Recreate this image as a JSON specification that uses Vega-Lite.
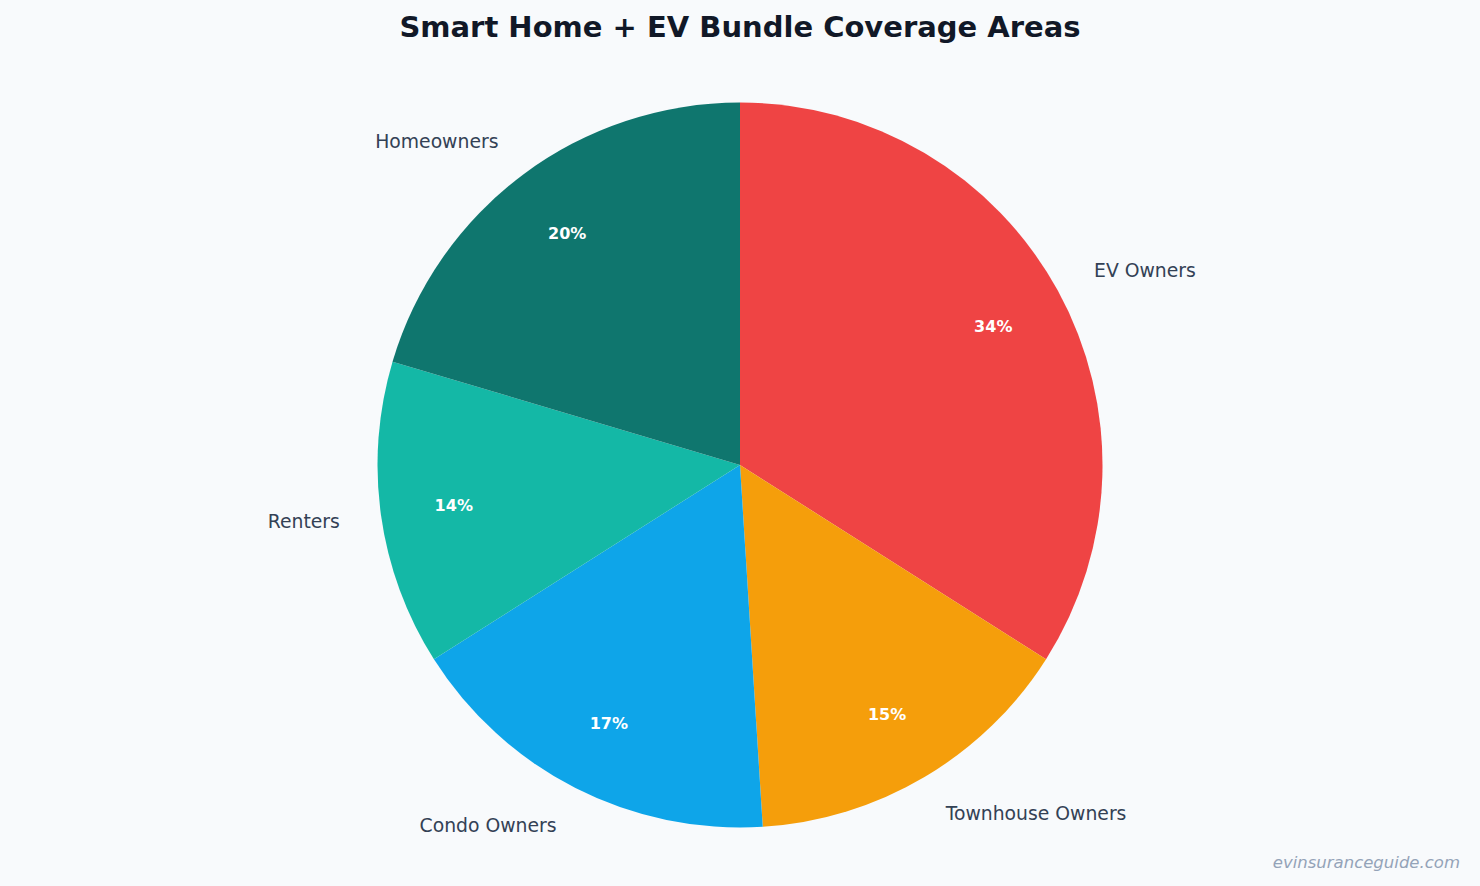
{
  "$schema": "https://vega.github.io/schema/vega-lite/v6.json",
  "autosize": {"type": "none"},
  "width": 1480,
  "height": 810,
  "padding": {"top": 60, "left": 0, "right": 0, "bottom": 16},
  "background": "#f8fafc",
  "config": {"view": {"stroke": null}, "font": "DejaVu Sans"},
  "title": {
    "text": "Smart Home + EV Bundle Coverage Areas",
    "font": "DejaVu Sans",
    "fontSize": 29,
    "fontWeight": "bold",
    "color": "#111827",
    "anchor": "middle",
    "offset": 17
  },
  "data": {
    "values": [
      {"category": "EV Owners", "share": 0.340, "rank": 1},
      {"category": "Townhouse Owners", "share": 0.150, "rank": 2},
      {"category": "Condo Owners", "share": 0.170, "rank": 3},
      {"category": "Renters", "share": 0.136, "rank": 4},
      {"category": "Homeowners", "share": 0.204, "rank": 5}
    ]
  },
  "encoding": {
    "theta": {"field": "share", "type": "quantitative", "stack": true},
    "order": {"field": "rank", "type": "quantitative"}
  },
  "layer": [
    {
      "mark": {"type": "arc", "outerRadius": 362.5},
      "encoding": {
        "color": {
          "field": "category",
          "type": "nominal",
          "legend": null,
          "scale": {
            "domain": ["EV Owners", "Townhouse Owners", "Condo Owners", "Renters", "Homeowners"],
            "range": ["#ef4444", "#f59e0b", "#0ea5e9", "#14b8a6", "#0f766e"]
          }
        }
      }
    },
    {
      "mark": {"type": "text", "radius": 289, "fontSize": 16, "fontWeight": "bold", "color": "#ffffff", "baseline": "middle", "align": "center", "dy": 1},
      "encoding": {
        "text": {"field": "share", "type": "quantitative", "format": ".0%"}
      }
    },
    {
      "mark": {"type": "text", "radius": 404, "fontSize": 18.8, "color": "#334155", "baseline": "middle", "align": "left", "dy": 1},
      "encoding": {
        "text": {
          "condition": {"test": "datum.category === 'EV Owners' || datum.category === 'Townhouse Owners'", "field": "category"},
          "value": ""
        }
      }
    },
    {
      "mark": {"type": "text", "radius": 404, "fontSize": 18.8, "color": "#334155", "baseline": "middle", "align": "right", "dy": 1},
      "encoding": {
        "text": {
          "condition": {"test": "datum.category !== 'EV Owners' && datum.category !== 'Townhouse Owners'", "field": "category"},
          "value": ""
        }
      }
    },
    {
      "data": {"values": [{"note": "evinsuranceguide.com"}]},
      "mark": {"type": "text", "fontSize": 16.5, "fontStyle": "italic", "color": "#94a3b8", "align": "right", "baseline": "alphabetic", "dx": -20, "dy": -2},
      "encoding": {
        "x": {"value": "width"},
        "y": {"value": "height"},
        "text": {"field": "note", "type": "nominal"},
        "theta": null,
        "order": null
      }
    }
  ]
}
